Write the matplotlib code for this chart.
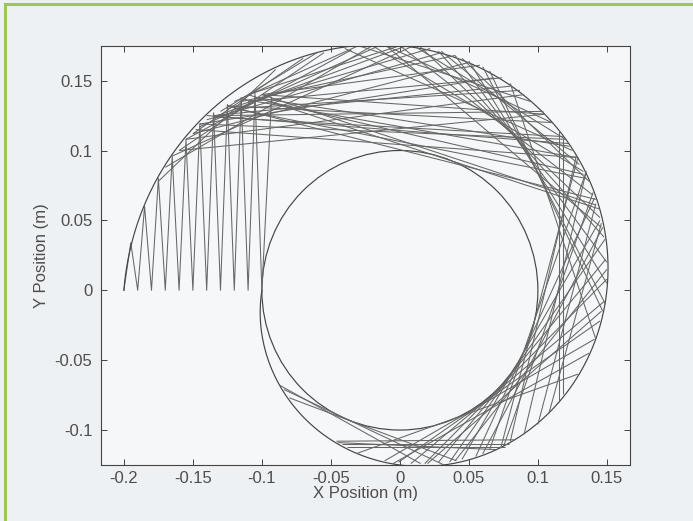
import matplotlib.pyplot as plt
import numpy as np
from matplotlib.collections import LineCollection
from matplotlib.patches import Circle, Rectangle

# zigzag start: bottom points on y=0, peaks near the outer boundary
zig_bottom_x = [-0.2, -0.19, -0.18, -0.17, -0.16, -0.15, -0.14, -0.13, -0.12, -0.11, -0.1]
zig_peak_x = [-0.195, -0.185, -0.175, -0.165, -0.155, -0.145, -0.135, -0.125, -0.115, -0.105, -0.093]
zig_peak_y = [0.034, 0.060, 0.080, 0.096, 0.108, 0.119, 0.127, 0.133, 0.138, 0.141, 0.138]

# outer spiral boundary: radius read at quarter turns (deg)
spiral_angle = [180, 90, 0, -90, -180]
spiral_radius = [0.2, 0.175, 0.15, 0.125, 0.1]

# inner obstacle circle
inner_radius = 0.1

# straight path segments (start x, start y, end x, end y)
seg_x0 = [-0.100, -0.110, -0.120, -0.100, -0.130, -0.105, -0.140, -0.095, -0.120, -0.100,
          -0.110, -0.125, -0.148, -0.135,
          -0.040, -0.020, 0.000, 0.015, 0.028, 0.040, 0.050, -0.010, 0.060, 0.080, 0.065,
          -0.155, -0.145, -0.135, -0.125, -0.160, -0.115, -0.150,
          0.135, 0.145, 0.149, 0.148, 0.141, 0.129, 0.141, 0.149, 0.150, 0.145, 0.129,
          0.118, 0.115,
          -0.046, -0.042, -0.038, -0.045,
          -0.080, -0.084, -0.087,
          -0.170, -0.165, -0.175, -0.155, -0.145, -0.160, -0.150, -0.140, -0.130,
          -0.120, -0.110, -0.135, -0.125, -0.115, -0.145,
          -0.030, -0.010, 0.010, 0.030, 0.045,
          0.140, 0.147, 0.150, 0.146, 0.137,
          0.135, 0.142, 0.128, 0.146]
seg_y0 = [0.140, 0.135, 0.130, 0.140, 0.125, 0.138, 0.125, 0.135, 0.130, 0.140,
          0.140, 0.132, 0.115, 0.124,
          0.173, 0.175, 0.175, 0.174, 0.171, 0.168, 0.164, 0.175, 0.160, 0.148, 0.157,
          0.108, 0.117, 0.124, 0.130, 0.100, 0.135, 0.112,
          0.085, 0.050, 0.022, -0.008, -0.035, -0.060, 0.066, 0.037, 0.008, -0.022, 0.095,
          0.108, 0.114,
          -0.108, -0.110, -0.112, -0.109,
          -0.077, -0.071, -0.068,
          0.088, 0.096, 0.078, 0.108, 0.119, 0.100, 0.112, 0.122, 0.128,
          0.135, 0.140, 0.125, 0.132, 0.137, 0.119,
          0.175, 0.175, 0.175, 0.171, 0.166,
          0.070, 0.045, 0.015, -0.015, -0.045,
          0.085, 0.062, 0.097, 0.048]
seg_x1 = [0.058, 0.074, 0.087, 0.105, 0.104, 0.123, 0.122, 0.133, 0.135, 0.142,
          0.145, 0.142, 0.128, 0.118,
          0.125, 0.133, 0.140, 0.145, 0.148, 0.150, 0.150, 0.146, 0.149, 0.142, 0.147,
          -0.035, -0.015, 0.005, 0.022, -0.055, 0.040, -0.070,
          0.065, 0.045, 0.028, 0.008, -0.011, -0.032, 0.055, 0.036, 0.018, -0.001, 0.073,
          0.118, 0.115,
          0.083, 0.079, 0.076, 0.070,
          0.041, 0.032, 0.015,
          -0.020, 0.010, -0.090, 0.090, 0.068, 0.105, 0.050, 0.030, -0.060,
          -0.030, 0.000, 0.080, 0.110, 0.128, 0.120,
          0.095, 0.110, 0.120, 0.130, 0.137,
          0.075, 0.060, 0.040, 0.020, -0.005,
          0.090, 0.100, 0.080, 0.108]
seg_y1 = [0.161, 0.152, 0.143, 0.126, 0.128, 0.103, 0.105, 0.083, 0.080, 0.061,
          0.058, 0.065, 0.095, 0.110,
          0.100, 0.085, 0.068, 0.052, 0.038, 0.020, 0.005, 0.045, -0.010, -0.035, -0.015,
          0.172, 0.175, 0.175, 0.173, 0.170, 0.168, 0.166,
          -0.114, -0.121, -0.123, -0.124, -0.122, -0.117, -0.119, -0.123, -0.124, -0.123, -0.113,
          -0.074, -0.080,
          -0.107, -0.110, -0.112, -0.114,
          -0.122, -0.125, -0.124,
          0.175, 0.175, 0.158, 0.140, 0.152, 0.126, 0.163, 0.170, 0.170,
          0.175, 0.175, 0.146, 0.120, 0.095, 0.108,
          0.135, 0.120, 0.108, 0.090, 0.078,
          -0.112, -0.117, -0.122, -0.124, -0.124,
          -0.103, -0.096, -0.108, -0.088]

x_ticks = [-0.2, -0.15, -0.1, -0.05, 0, 0.05, 0.1, 0.15]
x_tick_labels = ['-0.2', '-0.15', '-0.1', '-0.05', '0', '0.05', '0.1', '0.15']
y_ticks = [-0.1, -0.05, 0, 0.05, 0.1, 0.15]
y_tick_labels = ['-0.1', '-0.05', '0', '0.05', '0.1', '0.15']

plt.rcParams['font.family'] = ['Liberation Sans', 'DejaVu Sans']

fig = plt.figure(figsize=(6.93, 5.21), dpi=100, facecolor='#eef1f3')
ax = fig.add_axes([0.1455, 0.1075, 0.7635, 0.8048])
ax.set_facecolor('#f6f7f8')

line_col = '#666666'

# zigzag
zx = np.empty(len(zig_bottom_x) + len(zig_peak_x))
zy = np.empty_like(zx)
zx[0::2] = zig_bottom_x
zy[0::2] = 0
zx[1::2] = zig_peak_x
zy[1::2] = zig_peak_y
ax.plot(zx, zy, color=line_col, lw=0.75)

# outer spiral
th = np.linspace(180, -180, 720)
r = np.interp(-th, [-a for a in spiral_angle], spiral_radius)
ax.plot(r * np.cos(np.radians(th)), r * np.sin(np.radians(th)), color='#454545', lw=0.85)

# inner circle
ax.add_patch(Circle((0, 0), inner_radius, fill=False, ec='#454545', lw=0.85))

# chords
segs = [[(a, b), (c, d)] for a, b, c, d in zip(seg_x0, seg_y0, seg_x1, seg_y1)]
ax.add_collection(LineCollection(segs, colors=line_col, linewidths=0.75))

ax.set_xlim(-0.2167, 0.1667)
ax.set_ylim(-0.125, 0.175)
ax.set_xticks(x_ticks)
ax.set_xticklabels(x_tick_labels)
ax.set_yticks(y_ticks)
ax.set_yticklabels(y_tick_labels)
ax.tick_params(direction='in', top=True, right=True, length=4, width=0.7,
               colors='#444444', labelcolor='#4d4d4d', labelsize=12)
ax.tick_params(axis='x', pad=4)
ax.tick_params(axis='y', pad=6)
for s in ax.spines.values():
    s.set_color('#444444')
    s.set_linewidth(0.8)

ax.set_xlabel('X Position (m)', fontsize=12, color='#4d4d4d', labelpad=0)
ax.set_ylabel('Y Position (m)', fontsize=12, color='#4d4d4d', labelpad=4)

# green frame of the page
fig.patches.append(Rectangle((5 / 693, -0.05), 1.1, 1.05 - 4 / 521, transform=fig.transFigure,
                             fill=False, ec='#9cc65a', lw=2.2))

fig.savefig('out.png', dpi=100, facecolor=fig.get_facecolor())
